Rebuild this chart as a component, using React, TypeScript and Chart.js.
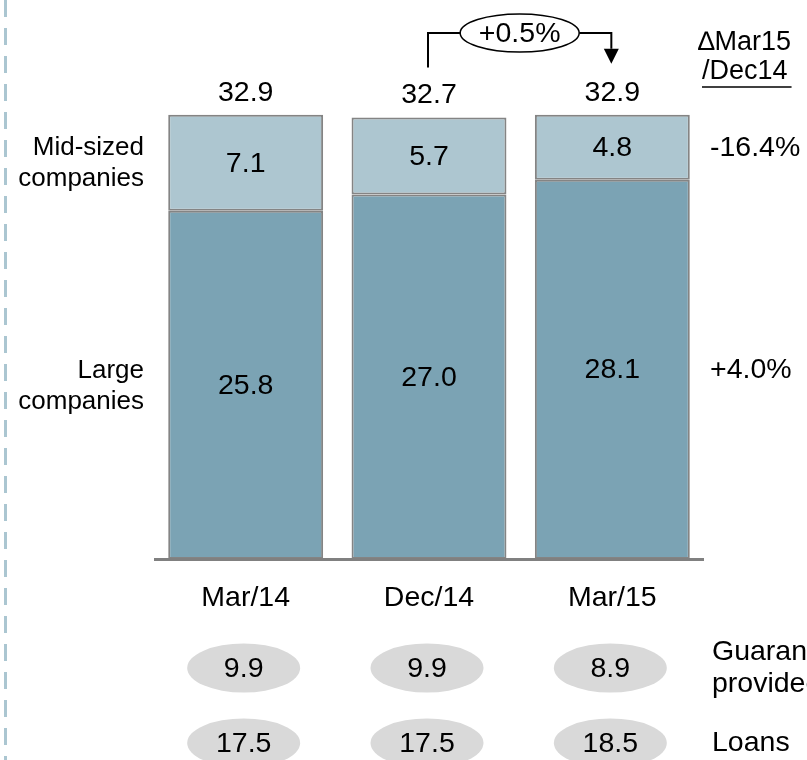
import React, { useEffect, useRef } from "react";
import { Chart, registerables } from "chart.js";

Chart.register(...registerables);

// Corporate exposure by company size (stacked), with memo rows below
const categories = ["Mar/14", "Dec/14", "Mar/15"];
const largeCompanies = [25.8, 27.0, 28.1];
const midSizedCompanies = [7.1, 5.7, 4.8];
const guaranteesProvided = [9.9, 9.9, 8.9];
const loans = [17.5, 17.5, 18.5];

const seriesNames = [["Large", "companies"], ["Mid-sized", "companies"]];
const seriesChange = ["+4.0%", "-16.4%"];
const totalChange = "+0.5%";
const changeHeader = ["\u2206Mar15", "/Dec14"];
const memoRowNames = [["Guarantees", "provided"], ["Loans"]];

const FONT = '"Liberation Sans", Arial, sans-serif';
const DARK = "#7ba3b4";
const LIGHT = "#adc6d0";
const EDGE = "#848484";

const fmt = (v: number) => v.toFixed(1);

const overlay = {
  id: "overlay",
  afterDraw(chart: any) {
    const ctx: CanvasRenderingContext2D = chart.ctx;
    const area = chart.chartArea;
    const large = chart.getDatasetMeta(0).data;
    const mid = chart.getDatasetMeta(1).data;
    const font = (px: number) => `${px}px ${FONT}`;
    const NUM = font(28.5);
    const WORD = font(26);
    const SIDE = font(27);

    ctx.save();

    // dashed rule down the left edge
    ctx.strokeStyle = "#abc6d1";
    ctx.lineWidth = 3;
    ctx.setLineDash([17, 11]);
    ctx.beginPath();
    ctx.moveTo(5.5, 0);
    ctx.lineTo(5.5, chart.height);
    ctx.stroke();
    ctx.setLineDash([]);

    // baseline
    ctx.strokeStyle = "#808080";
    ctx.lineWidth = 3;
    ctx.beginPath();
    ctx.moveTo(area.left, area.bottom + 0.5);
    ctx.lineTo(area.right, area.bottom + 0.5);
    ctx.stroke();

    ctx.fillStyle = "#000";
    ctx.textBaseline = "middle";
    ctx.textAlign = "center";
    ctx.font = NUM;

    categories.forEach((cat, i) => {
      const xc = large[i].x;
      const total = largeCompanies[i] + midSizedCompanies[i];
      // totals above bars
      ctx.fillText(fmt(total), xc, mid[i].y - 22);
      // segment values
      ctx.fillText(fmt(largeCompanies[i]), xc, (large[i].y + large[i].base) / 2 + 1);
      ctx.fillText(fmt(midSizedCompanies[i]), xc, (mid[i].y + mid[i].base) / 2 + 1);
      // category labels
      ctx.fillText(cat, xc, area.bottom + 39);

      // memo rows in grey ovals
      [guaranteesProvided, loans].forEach((row, r) => {
        const cy = area.bottom + 109 + r * 75;
        const cx = xc - 2;
        ctx.fillStyle = "#d9d9d9";
        ctx.beginPath();
        ctx.ellipse(cx, cy, 56.5, 24.5, 0, 0, Math.PI * 2);
        ctx.fill();
        ctx.fillStyle = "#000";
        ctx.fillText(fmt(row[i]), cx, cy + 1);
      });
    });

    // series names on the left, centred on the first bar's segments
    ctx.textAlign = "right";
    ctx.font = WORD;
    const segCentre = [(large[0].y + large[0].base) / 2, (mid[0].y + mid[0].base) / 2];
    seriesNames.forEach((lines, s) => {
      lines.forEach((t, k) => {
        ctx.fillText(t, 144, segCentre[s] + 1 + (k - (lines.length - 1) / 2) * 31);
      });
    });

    // change column on the right, centred on the last bar's segments
    ctx.textAlign = "left";
    ctx.font = NUM;
    const last = categories.length - 1;
    const lastCentre = [
      (large[last].y + large[last].base) / 2,
      (mid[last].y + mid[last].base) / 2,
    ];
    seriesChange.forEach((t, s) => ctx.fillText(t, 710, lastCentre[s] + 1));

    // memo row names
    memoRowNames.forEach((lines, r) => {
      const cy = area.bottom + 109 + r * 75;
      lines.forEach((t, k) => {
        ctx.fillText(t, 712, cy + (k - (lines.length - 1) / 2) * 32);
      });
    });

    // column header
    ctx.font = SIDE;
    ctx.fillText(changeHeader[0], 698, 43);
    ctx.fillText(changeHeader[1], 702, 72);
    const hw = ctx.measureText(changeHeader[1]).width;
    ctx.strokeStyle = "#000";
    ctx.lineWidth = 1.5;
    ctx.beginPath();
    ctx.moveTo(702, 87);
    ctx.lineTo(702 + hw + 4, 87);
    ctx.stroke();

    // bracket from Dec/14 total to Mar/15 total
    const x1 = large[1].x - 1;
    const x2 = large[2].x - 1;
    const topY = 33;
    const ex = (x1 + x2) / 2;
    const rx = 59.5;
    const ry = 19;
    ctx.strokeStyle = "#000";
    ctx.lineWidth = 2;
    ctx.beginPath();
    ctx.moveTo(x1, mid[1].y - 50);
    ctx.lineTo(x1, topY);
    ctx.lineTo(ex - rx, topY);
    ctx.moveTo(ex + rx, topY);
    ctx.lineTo(x2, topY);
    ctx.lineTo(x2, mid[2].y - 66);
    ctx.stroke();
    ctx.fillStyle = "#000";
    ctx.beginPath();
    ctx.moveTo(x2 - 7.5, mid[2].y - 66);
    ctx.lineTo(x2 + 7.5, mid[2].y - 66);
    ctx.lineTo(x2, mid[2].y - 51);
    ctx.closePath();
    ctx.fill();
    ctx.fillStyle = "#fff";
    ctx.beginPath();
    ctx.ellipse(ex, topY, rx, ry, 0, 0, Math.PI * 2);
    ctx.fill();
    ctx.lineWidth = 1.5;
    ctx.stroke();
    ctx.fillStyle = "#000";
    ctx.textAlign = "center";
    ctx.font = NUM;
    ctx.fillText(totalChange, ex, topY + 1);

    ctx.restore();
  },
};

export default function App() {
  const ref = useRef<HTMLCanvasElement | null>(null);

  useEffect(() => {
    if (!ref.current) return;
    const chart = new Chart(ref.current, {
      type: "bar",
      data: {
        labels: categories,
        datasets: [
          {
            label: "Large companies",
            data: largeCompanies,
            backgroundColor: DARK,
            borderColor: EDGE,
            borderWidth: 2,
            borderSkipped: false,
            categoryPercentage: 1,
            barPercentage: 0.845,
          },
          {
            label: "Mid-sized companies",
            data: midSizedCompanies,
            backgroundColor: LIGHT,
            borderColor: EDGE,
            borderWidth: 2,
            borderSkipped: false,
            categoryPercentage: 1,
            barPercentage: 0.845,
          },
        ],
      },
      options: {
        responsive: false,
        maintainAspectRatio: false,
        animation: false,
        devicePixelRatio: 1,
        layout: { padding: { left: 154, right: 103, top: 73, bottom: 201 } },
        scales: {
          x: { stacked: true, display: false },
          y: { stacked: true, display: false, min: 0, max: 36 },
        },
        plugins: {
          legend: { display: false },
          tooltip: { enabled: false },
        },
      },
      plugins: [overlay],
    });
    return () => chart.destroy();
  }, []);

  return (
    <div
      style={{
        position: "absolute",
        left: 0,
        top: 0,
        width: 807,
        height: 760,
        background: "#fff",
        overflow: "hidden",
      }}
    >
      <canvas ref={ref} width={807} height={760} />
    </div>
  );
}
